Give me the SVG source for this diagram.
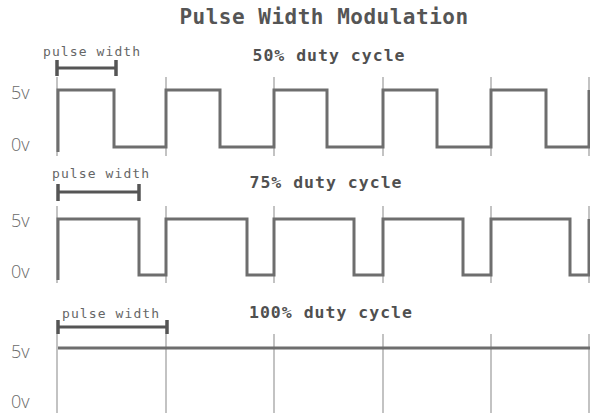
<svg xmlns="http://www.w3.org/2000/svg" width="590" height="413" viewBox="0 0 590 413">
<style>
.bg{fill:#ffffff}
.title{font-family:"DejaVu Sans Mono","Liberation Mono",monospace;font-weight:bold;font-size:21px;letter-spacing:0.5px;fill:#555555}
.duty{font-family:"DejaVu Sans Mono","Liberation Mono",monospace;font-weight:bold;font-size:16.5px;letter-spacing:1px;fill:#505050}
.pw{font-family:"DejaVu Sans Mono","Liberation Mono",monospace;font-size:13px;letter-spacing:1.1px;fill:#666666}
.lvl{font-family:"Open Sans","Liberation Sans",sans-serif;font-weight:300;font-size:18px;fill:#6a6a6a}
.grid{stroke:#b4b4b4;stroke-width:1.6;fill:none}
.wave{stroke:#6e6e6e;stroke-width:3;fill:none;stroke-linejoin:miter}
.bar{stroke:#555555;stroke-width:3;fill:none}
.cap{stroke:#555555;stroke-width:3.5;fill:none}
</style>
<rect class="bg" x="0" y="0" width="590" height="413"/>
<text class="title" x="324" y="24" text-anchor="middle">Pulse Width Modulation</text>

<g id="panel-50">
  <text class="duty" x="329" y="61" text-anchor="middle">50% duty cycle</text>
  <text class="lvl" x="11" y="99">5v</text>
  <text class="lvl" x="11" y="151">0v</text>
  <g class="grid">
    <line x1="57" y1="77" x2="57" y2="156"/>
    <line x1="166" y1="77" x2="166" y2="156"/>
    <line x1="274" y1="77" x2="274" y2="156"/>
    <line x1="383" y1="77" x2="383" y2="156"/>
    <line x1="491" y1="77" x2="491" y2="156"/>
    <line x1="589" y1="77" x2="589" y2="156"/>
  </g>
  <path class="wave" d="M58,152 V90 H114 V147 H166 V90 H220 V147 H274 V90 H327 V147 H383 V90 H437 V147 H491 V90 H546 V147 H589 V90"/>
  <g id="pw-50">
    <text class="pw" x="43" y="56">pulse width</text>
    <line class="bar" x1="57" y1="68" x2="116" y2="68"/>
    <line class="cap" x1="57" y1="60" x2="57" y2="76"/>
    <line class="cap" x1="116" y1="60" x2="116" y2="76"/>
  </g>
</g>

<g id="panel-75">
  <text class="duty" x="326" y="188" text-anchor="middle">75% duty cycle</text>
  <text class="lvl" x="11" y="227">5v</text>
  <text class="lvl" x="11" y="278">0v</text>
  <g class="grid">
    <line x1="57" y1="206" x2="57" y2="283"/>
    <line x1="166" y1="206" x2="166" y2="283"/>
    <line x1="274" y1="206" x2="274" y2="283"/>
    <line x1="383" y1="206" x2="383" y2="283"/>
    <line x1="491" y1="206" x2="491" y2="283"/>
    <line x1="589" y1="206" x2="589" y2="283"/>
  </g>
  <path class="wave" d="M58,280 V219 H139 V275 H166 V219 H247 V275 H274 V219 H354 V275 H383 V219 H463 V275 H491 V219 H570 V275 H589 V219"/>
  <g id="pw-75">
    <text class="pw" x="52" y="178">pulse width</text>
    <line class="bar" x1="58" y1="192" x2="139" y2="192"/>
    <line class="cap" x1="58" y1="184" x2="58" y2="201"/>
    <line class="cap" x1="139" y1="184" x2="139" y2="201"/>
  </g>
</g>

<g id="panel-100">
  <text class="duty" x="331" y="318" text-anchor="middle">100% duty cycle</text>
  <text class="lvl" x="11" y="358">5v</text>
  <text class="lvl" x="11" y="408">0v</text>
  <g class="grid">
    <line x1="57" y1="334" x2="57" y2="413"/>
    <line x1="166" y1="334" x2="166" y2="413"/>
    <line x1="274" y1="334" x2="274" y2="413"/>
    <line x1="383" y1="334" x2="383" y2="413"/>
    <line x1="491" y1="334" x2="491" y2="413"/>
    <line x1="589" y1="334" x2="589" y2="413"/>
  </g>
  <path class="wave" d="M58,348 H590"/>
  <g id="pw-100">
    <text class="pw" x="62" y="318">pulse width</text>
    <line class="bar" x1="58" y1="327" x2="167" y2="327"/>
    <line class="cap" x1="58" y1="320" x2="58" y2="334"/>
    <line class="cap" x1="167" y1="320" x2="167" y2="334"/>
  </g>
</g>
</svg>
